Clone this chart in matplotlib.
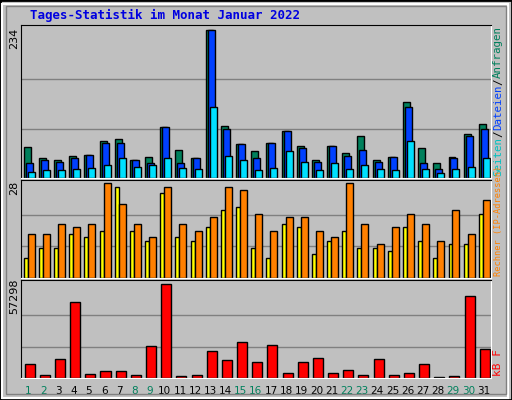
import numpy as np
import matplotlib.pyplot as plt
from matplotlib.patches import Rectangle

days = np.arange(1, 32)
anfragen = [49, 31, 28, 35, 37, 58, 61, 29, 34, 80, 45, 31, 234, 83, 54, 43, 56, 74, 50, 28,
            50, 39, 66, 29, 34, 120, 47, 23, 34, 70, 85]
dateien = [24, 28, 26, 31, 37, 56, 56, 28, 23, 80, 23, 31, 234, 77, 54, 31, 56, 74, 47, 26,
           50, 35, 45, 26, 34, 113, 23, 15, 31, 66, 77]
seiten = [10, 12, 13, 15, 16, 21, 31, 18, 20, 32, 16, 15, 112, 35, 28, 13, 16, 42, 26, 13,
          23, 15, 20, 15, 12, 58, 15, 8, 15, 18, 31]
besuche = [6, 9, 9, 13, 12, 14, 27, 14, 11, 25, 12, 11, 15, 20, 21, 9, 6, 16, 15, 7,
           11, 14, 9, 9, 8, 15, 11, 6, 10, 10, 19]
rechner = [13, 13, 16, 15, 16, 28, 22, 16, 12, 27, 16, 14, 18, 27, 26, 19, 14, 18, 18, 14,
           12, 28, 16, 10, 15, 19, 16, 11, 20, 13, 23]
kbytes = [8365, 2090, 11500, 46000, 2700, 4000, 4000, 2090, 19650, 57298, 1460, 2090, 16500,
          10870, 22160, 9600, 20280, 3340, 9600, 12130, 3340, 4600, 2090, 11500, 2090, 3340,
          8365, 800, 1460, 49750, 17770]
weekend = [1, 2, 8, 9, 15, 16, 22, 23, 29, 30]

W, H = 512, 400
fig = plt.figure(figsize=(W / 100, H / 100), dpi=100, facecolor='#C0C0C0')
mono = 'DejaVu Sans Mono'

# bevel border
fig.patches.append(Rectangle((0, 0), 1, 1, transform=fig.transFigure, fill=False,
                             edgecolor='black', linewidth=2))
fig.patches.append(Rectangle((2 / W, 2 / H), 1 - 6 / W, 1 - 6 / H, transform=fig.transFigure,
                             fill=False, edgecolor='white', linewidth=1.5))
fig.patches.append(Rectangle((6 / W, 6 / H), 1 - 12 / W, 1 - 12 / H, transform=fig.transFigure,
                             fill=False, edgecolor='#808080', linewidth=1))

left, right = 20.7, 491


def make_ax(top, bottom):
    ax = fig.add_axes([left / W, 1 - bottom / H, (right - left) / W, (bottom - top) / H])
    ax.set_facecolor('#C0C0C0')
    ax.set_xlim(0.5, 31.5)
    ax.set_xticks([])
    ax.set_yticks([])
    for s in ['top', 'left']:
        ax.spines[s].set_color('black')
    for s in ['bottom', 'right']:
        ax.spines[s].set_color('white')
    return ax


bk = dict(edgecolor='black', linewidth=1, align='edge')

ax1 = make_ax(25, 178)
ymax = max(anfragen)
ax1.set_ylim(0, ymax * 1.035)
for g in [ymax / 3, 2 * ymax / 3]:
    ax1.axhline(g, color='#808080', linewidth=1, zorder=0)
ax1.bar(days - 0.3, anfragen, 0.46, color='#00805C', **bk)
ax1.bar(days - 0.17, dateien, 0.46, color='#0040FF', **bk)
ax1.bar(days - 0.04, seiten, 0.46, color='#00E0FF', **bk)

ax2 = make_ax(180, 278)
ymax = max(rechner)
ax2.set_ylim(0, ymax * 1.035)
for g in [ymax / 3, 2 * ymax / 3]:
    ax2.axhline(g, color='#808080', linewidth=1, zorder=0)
ax2.bar(days - 0.3, besuche, 0.26, color='#FFFF00', **bk)
ax2.bar(days - 0.04, rechner, 0.46, color='#FF8000', **bk)

ax3 = make_ax(280, 378)
ymax = max(kbytes)
ax3.set_ylim(0, ymax * 1.04)
for g in [ymax / 3, 2 * ymax / 3]:
    ax3.axhline(g, color='#808080', linewidth=1, zorder=0)
ax3.bar(days - 0.24, kbytes, 0.66, color='#FF0000', **bk)

for d in days:
    ax3.text(d, -0.13, str(d), transform=ax3.get_xaxis_transform(), ha='center', va='center',
             fontsize=7.5, color='#00805C' if d in weekend else 'black')

# max labels
fig.text(14 / W, 1 - 38 / H, str(max(anfragen)), rotation=90, ha='center', va='center',
         fontsize=8, color='black')
fig.text(14 / W, 1 - 188 / H, str(max(rechner)), rotation=90, ha='center', va='center',
         fontsize=8, color='black')
fig.text(14 / W, 1 - 296 / H, str(max(kbytes)), rotation=90, ha='center', va='center',
         fontsize=8, color='black')

fig.text(30 / W, 1 - 15 / H, 'Tages-Statistik im Monat Januar 2022', fontsize=9,
         fontweight='bold', family=mono, color='#0000E0', va='center')


def vlabel(pieces, y0, size=8):
    y = y0
    cw = 0.6 * size * 100 / 72
    for txt, col in pieces:
        fig.text(498 / W, 1 - y / H, txt, rotation=90, ha='center', va='bottom',
                 fontsize=size, family=mono, color=col)
        y -= cw * len(txt)


vlabel([('Seiten', '#00C0C0'), ('/', 'black'), ('Dateien', '#0040FF'), ('/', 'black'),
        ('Anfragen', '#00805C')], 176, 7.8)
vlabel([('Rechner (IP-Adressen)', '#FF8000')], 276, 6.2)
vlabel([('kB F', '#FF0000')], 376)

fig.savefig('out.png', dpi=100, facecolor=fig.get_facecolor())
